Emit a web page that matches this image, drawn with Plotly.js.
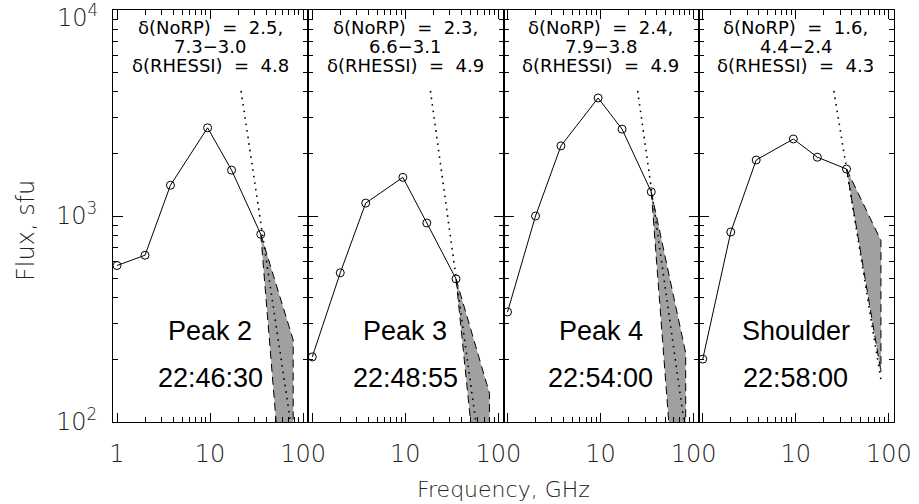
<!DOCTYPE html>
<html><head><meta charset="utf-8">
<script src="https://cdn.plot.ly/plotly-3.0.1.min.js"></script>
<style>body{margin:0;background:#fff}#chart{width:919px;height:504px}</style>
</head><body><div id="chart"></div>
<script>
// NoRP frequencies (GHz)
const freqs = [1, 2, 3.75, 9.4, 17, 35];
// Flux (sfu) per panel
const fluxPeak2 = [575, 645, 1410, 2680, 1670, 815];
const fluxPeak3 = [207, 530, 1155, 1540, 925, 495];
const fluxPeak4 = [342, 1000, 2190, 3740, 2640, 1310];
const fluxShoulder = [202, 836, 1870, 2365, 1930, 1690];
const panelFlux = [fluxPeak2, fluxPeak3, fluxPeak4, fluxShoulder];

const panelNames = ['Peak 2', 'Peak 3', 'Peak 4', 'Shoulder'];
const panelTimes = ['22:46:30', '22:48:55', '22:54:00', '22:58:00'];
const deltaNoRP = ['2.5', '2.3', '2.4', '1.6'];
const deltaRange = ['7.3\u22123.0', '6.6\u22123.1', '7.9\u22123.8', '4.4\u22122.4'];
const deltaRHESSI = ['4.8', '4.9', '4.9', '4.3'];

// dotted power-law extrapolation (freq GHz, flux sfu)
const dotFreq = [[21.5, 80], [18.6, 80], [25, 80], [25.6, 82]];
const dotFlux = [[4045, 76], [4045, 33], [4045, 95], [4045, 160]];

// RHESSI-derived band: upper and lower boundaries
const bandUpFreq = [[35, 78, 78], [35, 80, 80], [35, 82, 82], [35, 72, 82, 82]];
const bandUpFlux = [[815, 250, 50], [495, 138, 50], [1310, 216, 50], [1690, 855, 760, 175]];
const bandLoFreq = [[35, 55], [35, 55], [35, 60], [35, 82]];
const bandLoFlux = [[815, 67], [495, 67], [1310, 53], [1690, 175]];

// axis tick labels
const xTickVals = [1, 10, 100];
const xTickTextFirst = ['1', '10', '100'];
const xTickTextOther = ['', '10', '100'];
const yTickVals = [100, 1000, 10000];
const yTickText = ['10<sup>2</sup>', '10<sup>3</sup>', ''];
const yTopLabel = '10<sup>4</sup>';

const minorX = [];
[1, 10].forEach(d => { for (let k = 2; k <= 9; k++) minorX.push(k * d); });
const minorY = [];
[100, 1000].forEach(d => { for (let k = 2; k <= 9; k++) minorY.push(k * d); });

const tickFont = {family: 'DejaVu Sans', size: 24, color: '#222', weight: 200};
const traces = [];
const layout = {
  width: 919, height: 504,
  margin: {l: 113, r: 25, t: 10, b: 82},
  paper_bgcolor: '#fff', plot_bgcolor: '#fff',
  showlegend: false,
  annotations: []
};

for (let i = 0; i < 4; i++) {
  const sfx = i === 0 ? '' : String(i + 1);
  const xa = 'x' + sfx, ya = 'y' + sfx;
  const polyX = bandUpFreq[i].concat(bandLoFreq[i].slice().reverse());
  const polyY = bandUpFlux[i].concat(bandLoFlux[i].slice().reverse());
  traces.push({x: polyX, y: polyY, xaxis: xa, yaxis: ya, mode: 'lines', fill: 'toself',
    fillcolor: '#a0a0a0', line: {width: 0}, hoverinfo: 'skip'});
  traces.push({x: bandUpFreq[i], y: bandUpFlux[i], xaxis: xa, yaxis: ya, mode: 'lines',
    line: {color: '#000', width: 1, dash: '8px,5px'}});
  traces.push({x: bandLoFreq[i], y: bandLoFlux[i], xaxis: xa, yaxis: ya, mode: 'lines',
    line: {color: '#000', width: 1, dash: '8px,5px'}});
  traces.push({x: dotFreq[i], y: dotFlux[i], xaxis: xa, yaxis: ya, mode: 'lines',
    line: {color: '#000', width: 1.6, dash: '1.6px,5px'}});
  traces.push({x: freqs, y: panelFlux[i], xaxis: xa, yaxis: ya, mode: 'lines+markers',
    line: {color: '#000', width: 1},
    marker: {symbol: 'circle-open', size: 8, color: '#000', line: {width: 1, color: '#000'}}});

  layout['xaxis' + sfx] = {
    type: 'log', range: [-0.043, 2.054], domain: [i / 4, (i + 1) / 4], anchor: ya,
    showline: true, linecolor: '#000', linewidth: 1, mirror: 'allticks',
    ticks: 'inside', ticklen: 9, tickwidth: 1, tickcolor: '#000',
    tickmode: 'array', tickvals: xTickVals, ticktext: i === 0 ? xTickTextFirst : xTickTextOther,
    minor: {tickmode: 'array', tickvals: minorX, ticks: 'inside', ticklen: 5, tickcolor: '#000', tickwidth: 1, showgrid: false},
    showgrid: false, zeroline: false, tickfont: tickFont, ticklabelstandoff: 10,
    ticklabeloverflow: 'allow'
  };
  layout['yaxis' + sfx] = {
    type: 'log', range: [2, 4], domain: [0, 1], anchor: xa,
    showline: true, linecolor: '#000', linewidth: 1, mirror: 'allticks',
    ticks: 'inside', ticklen: 10, tickwidth: 1, tickcolor: '#000',
    tickmode: 'array', tickvals: yTickVals, ticktext: yTickText, showticklabels: i === 0,
    minor: {tickmode: 'array', tickvals: minorY, ticks: 'inside', ticklen: 5, tickcolor: '#000', tickwidth: 1, showgrid: false},
    showgrid: false, zeroline: false, tickfont: tickFont, ticklabelstandoff: 10,
    ticklabeloverflow: 'allow'
  };

  const noteFont = {family: 'DejaVu Sans', size: 18, color: '#000'};
  const lines = ['\u03b4(NoRP)\u00a0\u00a0=\u00a0\u00a0' + deltaNoRP[i] + ',', deltaRange[i], '\u03b4(RHESSI)\u00a0\u00a0=\u00a0\u00a0' + deltaRHESSI[i]];
  const ly = [0.9587, 0.9102, 0.8665];
  lines.forEach((t, k) => layout.annotations.push({xref: xa, yref: 'paper', x: 1, y: ly[k],
    text: t, showarrow: false, xanchor: 'center', yanchor: 'middle', font: noteFont}));
  const bigFont = {family: 'Liberation Sans', size: 27, color: '#000'};
  layout.annotations.push({xref: xa, yref: 'paper', x: 1, y: 0.221, text: panelNames[i],
    showarrow: false, xanchor: 'center', yanchor: 'middle', font: bigFont});
  layout.annotations.push({xref: xa, yref: 'paper', x: 1, y: 0.107, text: panelTimes[i],
    showarrow: false, xanchor: 'center', yanchor: 'middle', font: bigFont});
}

// top y label, kept inside the figure as in the reference
layout.annotations.push({xref: 'paper', yref: 'paper', x: -0.0166, y: 0.985, text: yTopLabel,
  showarrow: false, xanchor: 'right', yanchor: 'middle', font: tickFont});

const titleFont = {family: 'DejaVu Sans', size: 22, color: '#222', weight: 200};
layout.annotations.push({xref: 'paper', yref: 'paper', x: 0.4994, y: -0.165, text: 'Frequency, GHz',
  showarrow: false, xanchor: 'center', yanchor: 'middle', font: titleFont});
layout.annotations.push({xref: 'paper', yref: 'paper', x: -0.1114, y: 0.466, text: 'Flux, sfu',
  showarrow: false, xanchor: 'center', yanchor: 'middle', textangle: -90,
  font: {family: 'DejaVu Sans', size: 24, color: '#222', weight: 200}});

Plotly.newPlot('chart', traces, layout, {staticPlot: true});
</script>
</body></html>
